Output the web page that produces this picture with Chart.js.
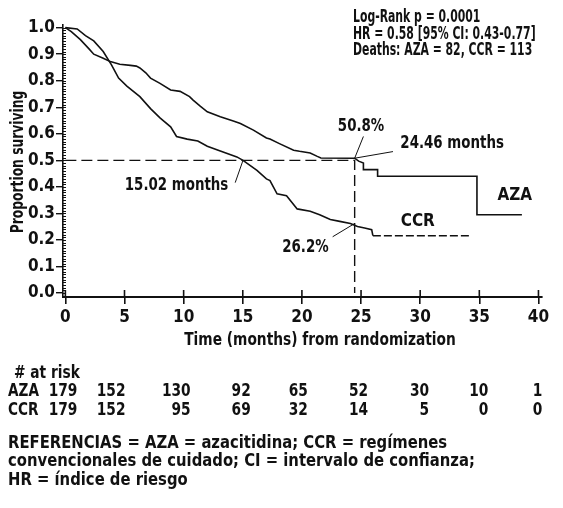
<!DOCTYPE html>
<html>
<head>
<meta charset="utf-8">
<script src="https://cdn.jsdelivr.net/npm/chart.js@4.4.1/dist/chart.umd.min.js"></script>
<style>
html, body { margin: 0; padding: 0; background: #fff; overflow: hidden; }
canvas { display: block; }
</style>
</head>
<body>
<canvas id="km" width="563" height="508"></canvas>
<script>
const FONT = '"Liberation Sans Narrow", "Arial Narrow", "DejaVu Sans Condensed", sans-serif';
const INK = '#111';

// Kaplan-Meier curves (months, proportion surviving)
const azaTime = [0, 0.5, 1.27, 2.0, 2.4, 3.2, 3.8, 4.6, 5.5, 6.0, 6.3, 6.8, 7.2, 8.0, 8.9, 9.7, 10.5, 10.8,
  11.4, 12.0, 13.1, 14.2, 14.8, 15.9, 17.0, 17.3, 18.1, 19.3, 19.8, 20.7, 21.3, 21.6, 24.46, 24.8, 25.2, 25.2,
  26.4, 26.4, 34.8, 34.8, 38.6];
const azaSurv = [1.0, 0.985, 0.955, 0.92, 0.90, 0.885, 0.872, 0.862, 0.858, 0.855, 0.848, 0.83, 0.81, 0.79, 0.765, 0.76, 0.74, 0.727,
  0.704, 0.683, 0.664, 0.648, 0.639, 0.614, 0.584, 0.58, 0.563, 0.538, 0.534, 0.528, 0.515, 0.509, 0.508, 0.497, 0.49, 0.465,
  0.465, 0.44, 0.44, 0.295, 0.295];

const ccrTime = [0, 1.0, 1.7, 2.4, 3.2, 3.9, 4.5, 5.2, 6.3, 7.2, 8.0, 8.9, 9.4, 10.3, 11.2, 12.0, 13.1, 14.5,
  15.02, 16.2, 17.0, 17.3, 17.9, 18.7, 19.6, 20.7, 21.5, 22.4, 23.2, 24.1, 24.7, 25.3, 25.9, 26.0, 34.3];
const ccrSurv = [1.0, 0.995, 0.97, 0.95, 0.91, 0.86, 0.81, 0.78, 0.74, 0.695, 0.66, 0.626, 0.59, 0.58, 0.573, 0.553, 0.535, 0.513,
  0.50, 0.462, 0.43, 0.424, 0.374, 0.367, 0.317, 0.308, 0.295, 0.277, 0.27, 0.262, 0.251, 0.245, 0.239, 0.216, 0.216];

const medianAZA = 24.46;
const medianCCR = 15.02;
const survAZA24 = 0.508;
const survCCR24 = 0.262;

const xTicks = [0, 5, 10, 15, 20, 25, 30, 35, 40];
const yTicks = [0.0, 0.1, 0.2, 0.3, 0.4, 0.5, 0.6, 0.7, 0.8, 0.9, 1.0];

const riskTimes = [0, 5, 10, 15, 20, 25, 30, 35, 40];
const riskAZA = [179, 152, 130, 92, 65, 52, 30, 10, 1];
const riskCCR = [179, 152, 95, 69, 32, 14, 5, 0, 0];

const xTitle = 'Time (months) from randomization';
const yTitle = 'Proportion surviving';
const statsLines = ['Log-Rank p = 0.0001', 'HR = 0.58 [95% CI: 0.43-0.77]', 'Deaths: AZA = 82, CCR = 113'];
const footerLines = [
  'REFERENCIAS = AZA = azacitidina; CCR = regímenes',
  'convencionales de cuidado; CI = intervalo de confianza;',
  'HR = índice de riesgo'
];

function pts(ts, vs) { return ts.map((t, i) => ({x: t, y: vs[i]})); }

// nudges so the at-risk numbers sit like the original (right edge vs tick)
const riskNudge = [12, 1, 7, 8, 6, 7, 9, 9, 4];

// bold text, squeezed sideways to mimic a condensed face
function say(ctx, s, px, py, size, sx, align, rot) {
  ctx.save();
  ctx.font = 'bold ' + size + 'px ' + FONT;
  ctx.textAlign = align || 'left';
  ctx.textBaseline = 'middle';
  ctx.translate(px, py);
  if (rot) ctx.rotate(rot);
  ctx.scale(sx, 1);
  ctx.fillText(s, 0, 0);
  ctx.restore();
}

const annotate = {
  id: 'annotate',
  afterDatasetsDraw(chart) {
    const {ctx, chartArea} = chart;
    const x = chart.scales.x, y = chart.scales.y;
    const seg = (x1, y1, x2, y2) => { ctx.beginPath(); ctx.moveTo(x1, y1); ctx.lineTo(x2, y2); ctx.stroke(); };
    ctx.save();
    ctx.strokeStyle = INK;
    ctx.fillStyle = INK;

    // minor ticks inside the y axis
    ctx.lineWidth = 1;
    for (let i = 0; i <= 100; i++) {
      const py = Math.round(y.getPixelForValue(i / 100)) + 0.5;
      seg(chartArea.left, py, chartArea.left + 3, py);
    }
    // x ticks poke up through the axis
    ctx.lineWidth = 1.6;
    xTicks.forEach(t => {
      const px = x.getPixelForValue(t);
      seg(px, chartArea.bottom, px, chartArea.bottom - 7);
    });

    // leader lines
    ctx.lineWidth = 1;
    seg(x.getPixelForValue(medianCCR), y.getPixelForValue(0.5), x.getPixelForValue(14.36), y.getPixelForValue(0.416));
    seg(x.getPixelForValue(medianAZA), y.getPixelForValue(survAZA24), x.getPixelForValue(25.2), y.getPixelForValue(0.59));
    seg(x.getPixelForValue(medianAZA), y.getPixelForValue(survAZA24), x.getPixelForValue(27.7), y.getPixelForValue(0.533));
    seg(x.getPixelForValue(medianAZA), y.getPixelForValue(survCCR24), x.getPixelForValue(22.6), y.getPixelForValue(0.212));

    const lab = (s, t, v, size, sx) => say(ctx, s, x.getPixelForValue(t), y.getPixelForValue(v), size, sx, 'center');
    lab(medianCCR.toFixed(2) + ' months', 9.4, 0.405, 17, 0.875);
    lab((survAZA24 * 100).toFixed(1) + '%', 25.0, 0.627, 17, 0.875);
    lab(medianAZA.toFixed(2) + ' months', 32.7, 0.565, 17, 0.875);
    lab((survCCR24 * 100).toFixed(1) + '%', 20.3, 0.173, 17, 0.875);
    lab('CCR', 29.8, 0.271, 18, 0.94);
    lab('AZA', 38.0, 0.367, 18, 0.94);

    // axis titles
    say(ctx, xTitle, 320, 340, 18, 0.85, 'center');
    say(ctx, yTitle, 18, 162, 18, 0.76, 'center', -Math.PI / 2);

    // stats block
    statsLines.forEach((s, i) => say(ctx, s, 353, 18 + i * 16.5, 17, 0.71, 'left'));

    // numbers at risk
    say(ctx, '# at risk', 14, 373, 18, 0.85, 'left');
    say(ctx, 'AZA', 8, 391, 18, 0.84, 'left');
    say(ctx, 'CCR', 8, 410, 18, 0.84, 'left');
    riskTimes.forEach((t, i) => {
      const px = x.getPixelForValue(t) + riskNudge[i];
      say(ctx, String(riskAZA[i]), px, 391, 18, 0.85, 'right');
      say(ctx, String(riskCCR[i]), px, 410, 18, 0.85, 'right');
    });

    // footnote
    footerLines.forEach((s, i) => say(ctx, s, 8, 443 + i * 18.5, 18, 0.915, 'left'));
    ctx.restore();
  }
};

new Chart(document.getElementById('km'), {
  type: 'line',
  data: {
    datasets: [
      {
        label: 'AZA',
        data: pts(azaTime, azaSurv),
        borderColor: INK, borderWidth: 1.6, pointRadius: 0, tension: 0
      },
      {
        label: 'CCR',
        data: pts(ccrTime, ccrSurv),
        borderColor: INK, borderWidth: 1.6, pointRadius: 0, tension: 0,
        segment: { borderDash: c => c.p0.parsed.x >= 25.95 ? [8, 3] : undefined }
      },
      {
        label: 'median',
        data: [{x: 0, y: 0.5}, {x: medianAZA, y: 0.5}, {x: medianAZA, y: 0}],
        borderColor: INK, borderWidth: 1.4, borderDash: [11, 5], pointRadius: 0, tension: 0
      }
    ]
  },
  options: {
    responsive: false,
    animation: false,
    layout: { padding: { top: 25, right: 21, bottom: 156, left: 0 } },
    plugins: { legend: { display: false }, tooltip: { enabled: false } },
    scales: {
      x: {
        type: 'linear', min: -0.2, max: 40.3,
        afterBuildTicks: s => { s.ticks = xTicks.map(v => ({value: v})); },
        afterFit: s => { s.height = 55; },
        border: { display: true, color: INK, width: 2 },
        grid: { drawOnChartArea: false, drawTicks: true, tickLength: 7, color: INK, lineWidth: 1.6 },
        ticks: { color: INK, padding: 3, maxRotation: 0, font: { family: FONT, size: 17, weight: 'bold' } },
        title: { display: false }
      },
      y: {
        type: 'linear', min: -0.015, max: 1.01,
        afterBuildTicks: s => { s.ticks = yTicks.map(v => ({value: v})); },
        afterFit: s => { s.width = 63; },
        border: { display: true, color: INK, width: 1.6 },
        grid: { drawOnChartArea: false, drawTicks: true, tickLength: 7, color: INK, lineWidth: 1.4 },
        ticks: { color: INK, padding: 1, callback: v => v.toFixed(1), font: { family: FONT, size: 17, weight: 'bold' } },
        title: { display: false }
      }
    }
  },
  plugins: [annotate]
});
</script>
</body>
</html>
